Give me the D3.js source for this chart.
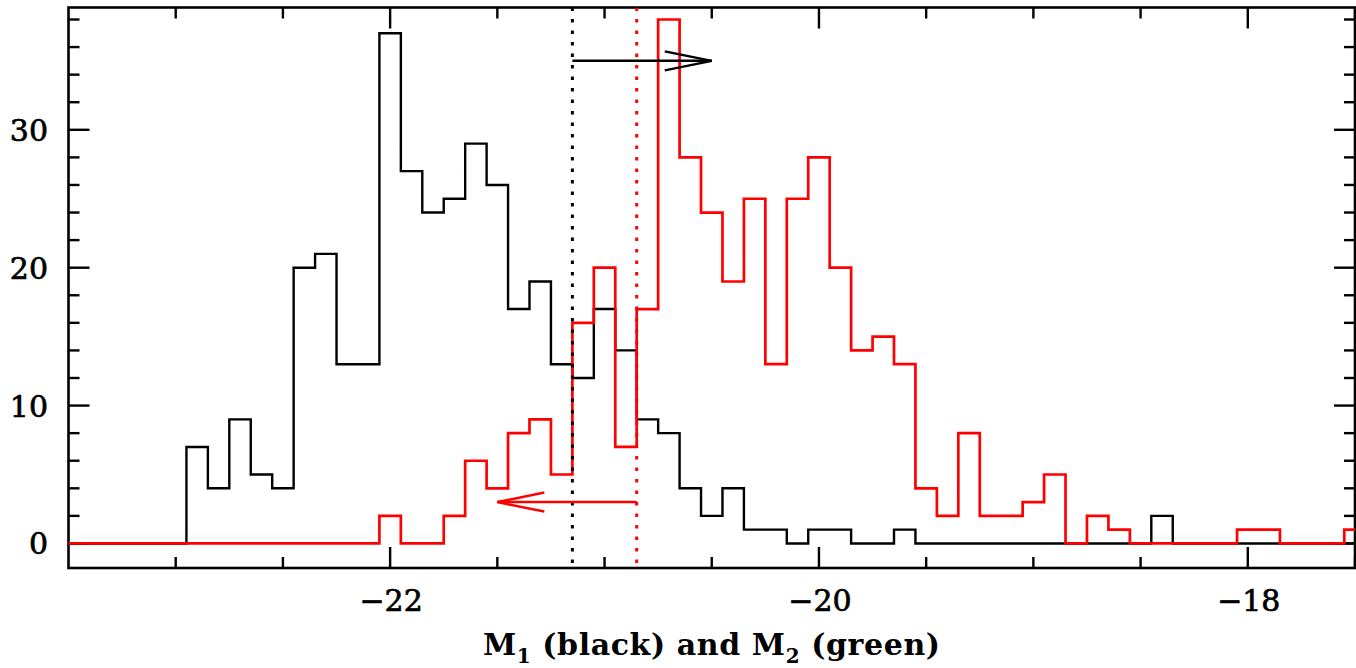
<!DOCTYPE html>
<html>
<head>
<meta charset="utf-8">
<script src="https://cdn.jsdelivr.net/npm/d3@7"></script>
<style>
  body { margin: 0; background: #fff; }
  text { font-family: "DejaVu Serif", "Liberation Serif", serif; fill: #000; }
</style>
</head>
<body>
<svg id="chart" width="1356" height="668"></svg>
<script>
// bins of 0.1 mag, first bin centred on -23.5, last on -17.5
const firstBin = -23.5;
const binWidth = 0.1;

// M1 counts (black)
const countsM1 = [
  0, 0, 0, 0, 0, 0, 7, 4, 9, 5,
  4, 20, 21, 13, 13, 37, 27, 24, 25, 29,
  26, 17, 19, 13, 12, 17, 14, 9, 8, 4,
  2, 4, 1, 1, 0, 1, 1, 0, 0, 1,
  0, 0, 0, 0, 0, 0, 0, 0, 0, 0,
  0, 2, 0, 0, 0, 0, 0, 0, 0, 0,
  0
];

// M2 counts (drawn red)
const countsM2 = [
  0, 0, 0, 0, 0, 0, 0, 0, 0, 0,
  0, 0, 0, 0, 0, 2, 0, 0, 2, 6,
  4, 8, 9, 5, 16, 20, 7, 17, 38, 28,
  24, 19, 25, 13, 25, 28, 20, 14, 15, 13,
  4, 2, 8, 2, 2, 3, 5, 0, 2, 1,
  0, 0, 0, 0, 0, 1, 1, 0, 0, 0,
  1
];

// vertical reference lines and arrows
const refLines = [
  { x: -21.15, color: "#000" },
  { x: -20.85, color: "#ff0000" }
];
const arrows = [
  { from: -21.15, to: -20.5, y: 35, color: "#000" },
  { from: -20.85, to: -21.5, y: 3, color: "#ff0000" }
];

const xTickLabels = [-22, -20, -18];
const yTickLabels = [0, 10, 20, 30];
const xLabel = ["M", "1", " (black) and ", "M", "2", " (green)"];

const svg = d3.select("#chart");
const pl = 68.5, pr = 1355, pt = 7.5, pb = 568;

const x = d3.scaleLinear().domain([-23.5, -17.5]).range([pl, pr]);
const y = d3.scaleLinear().domain([-1.78, 38.87]).range([pb, pt]);

svg.append("defs").append("clipPath").attr("id", "plot")
  .append("rect")
  .attr("x", pl).attr("y", pt)
  .attr("width", pr - pl).attr("height", pb - pt);

// frame
svg.append("rect")
  .attr("x", pl).attr("y", pt)
  .attr("width", pr - pl).attr("height", pb - pt)
  .attr("fill", "none")
  .attr("stroke", "#000")
  .attr("stroke-width", 2.6);

// ticks (inward on all four sides)
const major = 21, minor = 11;
const xMinor = d3.range(-23, -17.5 + 1e-9, 0.5);
const yMinor = d3.range(0, 38.1, 2);
const ticks = svg.append("g").attr("stroke", "#000").attr("stroke-width", 2.4);

xMinor.forEach(v => {
  const len = xTickLabels.includes(v) ? major : minor;
  ticks.append("line").attr("x1", x(v)).attr("x2", x(v)).attr("y1", pb).attr("y2", pb - len);
  ticks.append("line").attr("x1", x(v)).attr("x2", x(v)).attr("y1", pt).attr("y2", pt + len);
});
yMinor.forEach(v => {
  const len = v % 10 === 0 ? major : minor;
  ticks.append("line").attr("y1", y(v)).attr("y2", y(v)).attr("x1", pl).attr("x2", pl + len);
  ticks.append("line").attr("y1", y(v)).attr("y2", y(v)).attr("x1", pr).attr("x2", pr - len);
});

function steps(counts) {
  const pts = counts.map((v, i) => [firstBin - binWidth / 2 + i * binWidth, v]);
  pts.push([firstBin - binWidth / 2 + counts.length * binWidth, counts[counts.length - 1]]);
  return pts;
}

const line = d3.line()
  .x(d => x(d[0]))
  .y(d => y(d[1]))
  .curve(d3.curveStepAfter);

const plot = svg.append("g").attr("clip-path", "url(#plot)");

plot.append("path")
  .attr("d", line(steps(countsM1)))
  .attr("fill", "none")
  .attr("stroke", "#000")
  .attr("stroke-width", 2.4);

plot.append("path")
  .attr("d", line(steps(countsM2)))
  .attr("fill", "none")
  .attr("stroke", "#ff0000")
  .attr("stroke-width", 2.7);

plot.selectAll("line.ref")
  .data(refLines)
  .enter()
  .append("line")
  .attr("class", "ref")
  .attr("x1", d => x(d.x)).attr("x2", d => x(d.x))
  .attr("y1", pt).attr("y2", pb)
  .attr("stroke", d => d.color)
  .attr("stroke-width", 3)
  .attr("stroke-dasharray", "3.5,8");

// arrows with open chevron heads
const headLen = 47, headHalf = 9.5;
arrows.forEach(a => {
  const x0 = x(a.from), x1 = x(a.to), yy = y(a.y);
  const dir = x1 > x0 ? 1 : -1;
  const g = plot.append("g")
    .attr("stroke", a.color)
    .attr("stroke-width", 2.5)
    .attr("fill", "none");
  g.append("line").attr("x1", x0).attr("x2", x1).attr("y1", yy).attr("y2", yy);
  g.append("path")
    .attr("d", `M${x1 - dir * headLen},${yy - headHalf}L${x1},${yy}L${x1 - dir * headLen},${yy + headHalf}`);
});

// tick labels
svg.selectAll("text.xt")
  .data(xTickLabels)
  .enter()
  .append("text")
  .attr("class", "xt")
  .attr("x", d => x(d) + 1)
  .attr("y", 611)
  .attr("text-anchor", "middle")
  .attr("font-size", 30)
  .attr("stroke", "#000")
  .attr("stroke-width", 0.7)
  .text(d => "\u2212" + Math.abs(d));

svg.selectAll("text.yt")
  .data(yTickLabels)
  .enter()
  .append("text")
  .attr("class", "yt")
  .attr("x", 48)
  .attr("y", d => y(d) + 11)
  .attr("text-anchor", "end")
  .attr("font-size", 30)
  .attr("stroke", "#000")
  .attr("stroke-width", 0.7)
  .text(d => d);

// axis title with subscripts
const title = svg.append("text")
  .attr("x", (pl + pr) / 2)
  .attr("y", 655)
  .attr("text-anchor", "middle")
  .attr("font-size", 30)
  .attr("letter-spacing", 0.6)
  .attr("font-weight", "bold");
xLabel.forEach((s, i) => {
  const sub = i === 1 || i === 4;
  const afterSub = i === 2 || i === 5;
  title.append("tspan")
    .attr("font-size", sub ? 20 : 30)
    .attr("dy", sub ? 8 : (afterSub ? -8 : 0))
    .attr("xml:space", "preserve")
    .text(s);
});
</script>
</body>
</html>
